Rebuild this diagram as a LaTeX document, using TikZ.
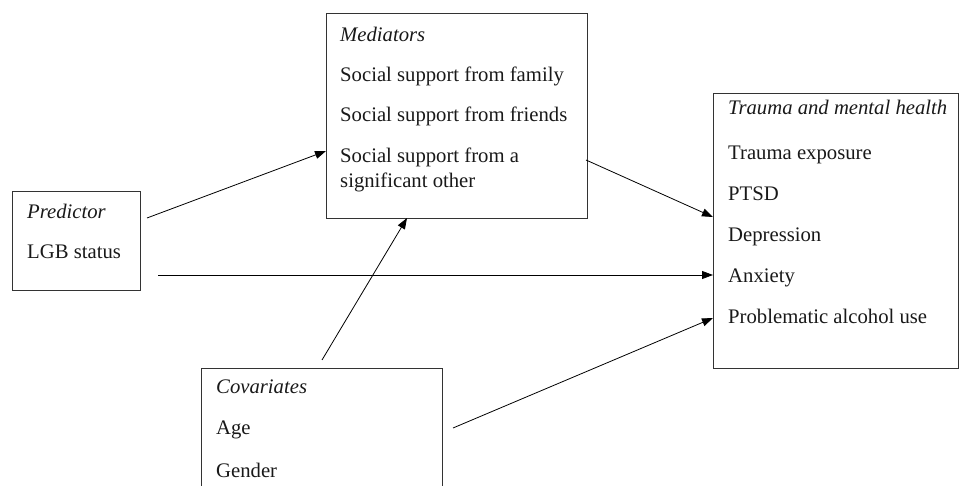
\documentclass[tikz,border=0pt]{standalone}
\usepackage{fontspec}
\setmainfont{Liberation Serif}
\usetikzlibrary{arrows.meta}
\begin{document}
\begin{tikzpicture}[x=1pt,y=-1pt,
  box/.style={draw=black!80, line width=1pt, rectangle, inner sep=0pt, anchor=north west},
  lbl/.style={anchor=base west, inner sep=0pt, font=\fontsize{20.7}{25}\selectfont, text=black!90},
  hd/.style={lbl, font=\fontsize{20.7}{25}\selectfont\itshape},
  arr/.style={line width=0.8pt, -{Triangle[length=11pt,width=8pt]}}]
\useasboundingbox (0,0) rectangle (959,486);
\clip (0,0) rectangle (959,486);
% boxes
\node[box, minimum width=128pt, minimum height=99pt] (pred) at (12,191) {};
\node[box, minimum width=261pt, minimum height=205pt] (med) at (326,13) {};
\node[box, minimum width=245pt, minimum height=275pt] (trauma) at (713,93) {};
\node[box, minimum width=241pt, minimum height=140pt] (cov) at (201,368) {};
% texts
\node[hd]  (t1) at (27,219) {Predictor};
\node[lbl] (t2) at (27,259) {LGB status};
\node[hd]  (m0) at (340,42) {Mediators};
\node[lbl] (m1) at (340,82) {Social support from family};
\node[lbl] (m2) at (340,122) {Social support from friends};
\node[lbl] (m3) at (340,163) {Social support from a};
\node[lbl] (m4) at (340,188) {significant other};
\node[hd]  (r0) at (728,115) {Trauma and mental health};
\node[lbl] (r1) at (728,160) {Trauma exposure};
\node[lbl] (r2) at (728,201) {PTSD};
\node[lbl] (r3) at (728,242) {Depression};
\node[lbl] (r4) at (728,283) {Anxiety};
\node[lbl] (r5) at (728,324) {Problematic alcohol use};
\node[hd]  (c0) at (216,394) {Covariates};
\node[lbl] (c1) at (216,435) {Age};
\node[lbl] (c2) at (216,477) {Gender};
% connector end points
\coordinate (pA) at (147,218);
\coordinate (pB) at (158,275);
\coordinate (mA) at (326,151);
\coordinate (mB) at (407,218);
\coordinate (mC) at (586,160);
\coordinate (rA) at (713,217);
\coordinate (rB) at (713,275);
\coordinate (rC) at (713,318);
\coordinate (cA) at (322,360);
\coordinate (cB) at (453,428);
% connectors
\draw[arr] (pA) -- (mA);
\draw[arr] (pB) -- (rB);
\draw[arr] (mC) -- (rA);
\draw[arr] (cA) -- (mB);
\draw[arr] (cB) -- (rC);
\end{tikzpicture}
\end{document}
